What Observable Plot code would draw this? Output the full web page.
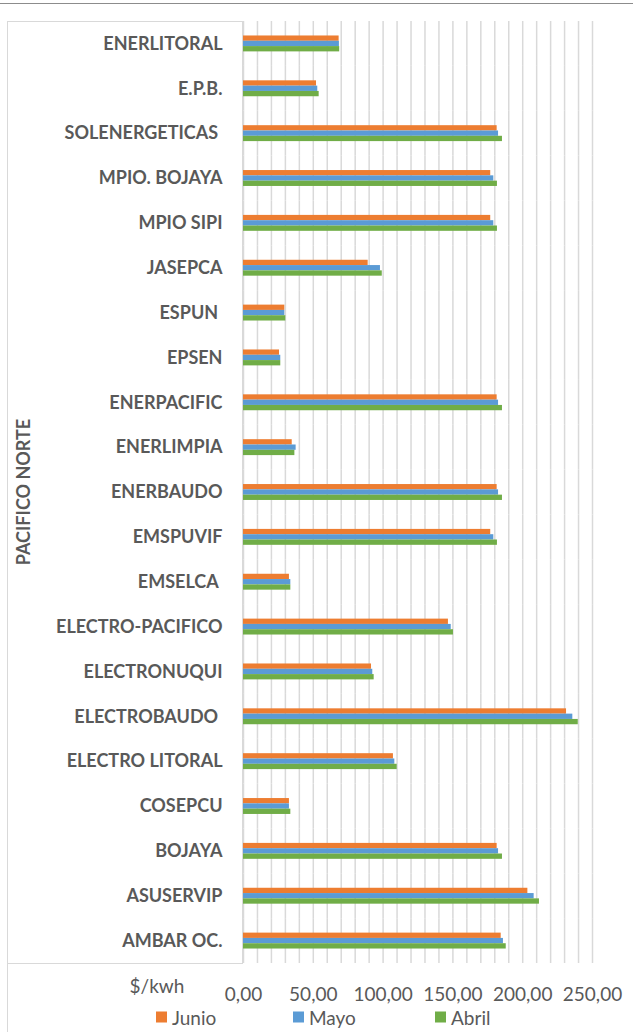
<!DOCTYPE html>
<html>
<head>
<meta charset="utf-8">
<script src="https://cdn.jsdelivr.net/npm/d3@7"></script>
<script src="https://cdn.jsdelivr.net/npm/@observablehq/plot@0.6"></script>
<style>
  html, body { margin: 0; padding: 0; background: #fff; }
  #wrap { position: relative; width: 633px; height: 1032px; overflow: hidden; font-family: Lato, "Open Sans", sans-serif; color: #595959; }
  #chart { position: absolute; left: 0; top: 0; }
  #chart svg { display: block; }
  .line { position: absolute; background: #d9d9d9; }
  .topline { position: absolute; left: 0; top: 3px; width: 633px; height: 1px; background: #8c8c8c; }
  #region { position: absolute; left: 23px; top: 492px; transform: translate(-50%, -50%) rotate(-90deg); font-weight: bold; font-size: 18px; white-space: nowrap; }
  #unit { position: absolute; left: 157px; top: 985px; transform: translate(-50%, -50%); font-size: 19px; white-space: nowrap; }
  .leg { position: absolute; top: 1017px; transform: translateY(-50%); font-size: 19px; display: flex; align-items: center; white-space: nowrap; }
  .leg i { display: inline-block; width: 11px; height: 11px; margin-right: 5px; }
</style>
</head>
<body>
<div id="wrap">
  <div class="topline"></div>
  <div id="chart"></div>
  <div class="line" style="left:7px; top:21px; width:1px; height:1011px;"></div>
  <div class="line" style="left:7px; top:21px; width:236px; height:1px;"></div>
  <div class="line" style="left:7px; top:963px; width:236px; height:1px;"></div>
  <div class="line" style="left:242px; top:21px; width:1px; height:943px;"></div>
  <div id="region"></div>
  <div id="unit"></div>
  <div id="legend"></div>
</div>
<script>
const regions = ["PACIFICO NORTE"];
const unitLabel = "$/kwh";
const companies = ["ENERLITORAL","E.P.B.","SOLENERGETICAS\u00a0","MPIO. BOJAYA","MPIO SIPI","JASEPCA","ESPUN\u00a0","EPSEN","ENERPACIFIC","ENERLIMPIA","ENERBAUDO","EMSPUVIF","EMSELCA\u00a0","ELECTRO-PACIFICO","ELECTRONUQUI","ELECTROBAUDO\u00a0","ELECTRO LITORAL","COSEPCU","BOJAYA","ASUSERVIP","AMBAR OC."];
const series = ["Junio","Mayo","Abril"];
const junio = [68.5, 52.3, 181.7, 177.1, 177.1, 89.3, 29.6, 25.8, 181.7, 34.9, 181.7, 177.1, 32.9, 146.8, 91.7, 231.4, 107.4, 32.9, 181.7, 203.7, 184.6];
const mayo  = [68.7, 53.2, 182.7, 179.3, 179.3, 98.1, 29.6, 26.7, 182.7, 37.7, 182.7, 179.3, 33.9, 148.8, 92.6, 235.9, 108.4, 32.9, 182.7, 208.2, 186.2];
const abril = [68.9, 54.2, 185.5, 181.9, 181.9, 99.4, 30.3, 26.7, 185.5, 36.8, 185.5, 181.9, 33.9, 150.4, 93.6, 239.8, 110.1, 33.9, 185.5, 212.0, 188.2];
const xTicks = [0, 50, 100, 150, 200, 250];
const gridTicks = [0,10,20,30,40,50,60,70,80,90,100,110,120,130,140,150,160,170,180,190,200,210,220,230,240,250];
const colors = ["#ED7D31", "#5B9BD5", "#70AD47"];

const values = [junio, mayo, abril];
const data = companies.flatMap((c, i) => series.map((s, k) => ({company: c, serie: s, value: values[k][i]})));

const chart = Plot.plot({
  width: 633,
  height: 1032,
  marginTop: 21,
  marginBottom: 69,
  marginLeft: 243,
  marginRight: 41,
  style: {fontFamily: "Lato, 'Open Sans', sans-serif", fontSize: "18px", color: "#595959", background: "transparent"},
  x: {domain: [0, 250], axis: null},
  fy: {domain: companies, padding: 0, round: false, axis: null},
  y: {domain: series, paddingInner: 0, paddingOuter: 2.73, round: false, axis: null},
  color: {domain: series, range: colors},
  marks: [
    Plot.gridX(gridTicks, {stroke: "#d9d9d9", strokeOpacity: 1, strokeWidth: 1.5}),
    Plot.barX(data, {fy: "company", y: "serie", x: "value", fill: "serie"}),
    Plot.axisFy({anchor: "left", tickSize: 0, tickPadding: 21, label: null, fontWeight: "bold", fontSize: 18, fill: "#595959"}),
    Plot.axisX({ticks: xTicks, tickSize: 0, tickPadding: 24, label: null, fontSize: 19, fill: "#595959",
      tickFormat: d => d.toFixed(2).replace(".", ",")})
  ]
});
document.getElementById("chart").appendChild(chart);

document.getElementById("region").textContent = regions[0];
document.getElementById("unit").textContent = unitLabel;
const legX = [156, 293, 435];
const leg = document.getElementById("legend");
series.forEach((s, k) => {
  const d = document.createElement("div");
  d.className = "leg";
  d.style.left = legX[k] + "px";
  d.innerHTML = `<i style="background:${colors[k]}"></i>${s}`;
  leg.appendChild(d);
});
</script>
</body>
</html>
